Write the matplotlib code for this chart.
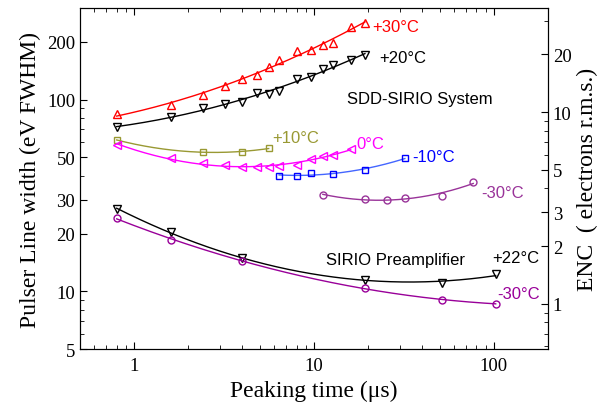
import numpy as np
import matplotlib
matplotlib.use("Agg")
import matplotlib.pyplot as plt
from matplotlib.ticker import FixedLocator, LogLocator, NullFormatter, ScalarFormatter

# peaking times (us) and pulser line widths (eV FWHM)
t_30 = [0.8, 1.6, 2.4, 3.2, 4.0, 4.8, 5.6, 6.4, 8.0, 9.6, 11.2, 12.8, 16.0, 19.2]
w_30 = [84, 94, 105, 117, 128, 135, 148, 161, 178, 181, 192, 198, 238, 250]

t_20 = [0.8, 1.6, 2.4, 3.2, 4.0, 4.8, 5.6, 6.4, 8.0, 9.6, 11.2, 12.8, 16.0, 19.2]
w_20 = [71.7, 81.5, 90.2, 94.9, 96.8, 108, 107, 110.5, 128, 131, 144, 152, 160, 170]

t_10 = [0.8, 2.4, 4.0, 5.6]
w_10 = [61.5, 53.3, 53.3, 55.7]

t_0 = [0.8, 1.6, 2.4, 3.2, 4.0, 4.8, 5.6, 6.4, 8.0, 9.6, 11.2, 12.8, 16.0]
w_0 = [58, 49.4, 46.7, 45.8, 44.6, 44.3, 44.3, 45.1, 45.8, 49.0, 50.6, 51.4, 55.2]

t_m10 = [6.4, 8.0, 9.6, 12.8, 19.2, 32.0]
w_m10 = [40.1, 40.1, 41.3, 40.9, 43.0, 49.5]

t_m30 = [11.2, 19.2, 25.6, 32.0, 51.2, 76.8]
w_m30 = [31.8, 30.3, 29.9, 30.7, 31.5, 37.1]

# SIRIO preamplifier alone
t_pre = [0.8, 1.6, 4.0, 19.2, 51.2, 102.4]
w_pre_22 = [26.7, 20.5, 15.0, 11.4, 11.0, 12.3]
w_pre_m30 = [24.1, 18.5, 14.4, 10.4, 9.04, 8.59]

EV_PER_ELECTRON = 8.6


def fit_curve(x, y, deg=2):
    lx, ly = np.log10(x), np.log10(y)
    p = np.polyfit(lx, ly, deg)
    xs = np.logspace(lx.min(), lx.max(), 200)
    return xs, 10 ** np.polyval(p, np.log10(xs))


fig = plt.figure(figsize=(6.12, 4.10), dpi=100)
ax = fig.add_axes([0.1307, 0.1463, 0.7647, 0.8317])

series = [
    (t_30, w_30, 'red', 'red', '^', 6),
    (t_20, w_20, 'black', 'black', 'v', 6),
    (t_10, w_10, '#999933', '#999933', 's', 4.5),
    (t_0, w_0, '#ff00ff', '#ff00ff', '<', 6),
    (t_m10, w_m10, '#4466ff', '#0000ff', 's', 4.5),
    (t_m30, w_m30, '#993399', '#993399', 'o', 5),
    (t_pre, w_pre_22, 'black', 'black', 'v', 6),
    (t_pre, w_pre_m30, '#990099', '#990099', 'o', 5),
]
for x, y, lc, mc, m, ms in series:
    xs, ys = fit_curve(x, y)
    ax.plot(xs, ys, color=lc, lw=1.0)
    ax.plot(x, y, ls='none', marker=m, ms=ms, mfc='none', mec=mc, mew=1.0)

ax.set_xscale('log')
ax.set_yscale('log')
ax.set_xlim(0.5, 200)
ax.set_ylim(5, 300)

serif = 'Liberation Serif'
sans = 'Liberation Sans'

ax.xaxis.set_major_locator(FixedLocator([1, 10, 100]))
ax.xaxis.set_major_formatter(ScalarFormatter())
ax.xaxis.set_minor_locator(LogLocator(subs=np.arange(2, 10)))
ax.xaxis.set_minor_formatter(NullFormatter())
ax.yaxis.set_major_locator(FixedLocator([5, 10, 20, 30, 50, 100, 200]))
ax.yaxis.set_major_formatter(ScalarFormatter())
ax.yaxis.set_minor_locator(LogLocator(subs=np.arange(2, 10)))
ax.yaxis.set_minor_formatter(NullFormatter())

ax.tick_params(which='both', direction='in', top=True, right=False, labelsize=13.5)
ax.tick_params(which='major', length=5)
ax.tick_params(which='minor', length=3)
ax.tick_params(axis='x', pad=6)
for lab in ax.get_xticklabels() + ax.get_yticklabels():
    lab.set_fontfamily(serif)

ax.set_xlabel('Peaking time (\u03bcs)', fontsize=17, family=serif)
ax.set_ylabel('Pulser Line width (eV FWHM)', fontsize=17, family=serif)

# right axis: ENC in electrons
ax2 = ax.twinx()
ax2.set_yscale('log')
ax2.set_ylim(5 / EV_PER_ELECTRON, 300 / EV_PER_ELECTRON)
ax2.yaxis.set_major_locator(FixedLocator([1, 2, 3, 5, 10, 20]))
ax2.yaxis.set_major_formatter(ScalarFormatter())
ax2.yaxis.set_minor_locator(LogLocator(subs=np.arange(2, 10)))
ax2.yaxis.set_minor_formatter(NullFormatter())
ax2.tick_params(which='both', direction='in', labelsize=13.5)
ax2.tick_params(which='major', length=5)
ax2.tick_params(which='minor', length=3)
for lab in ax2.get_yticklabels():
    lab.set_fontfamily(serif)
ax2.set_ylabel('ENC  ( electrons r.m.s.)', fontsize=17, family=serif)

# labels on the curves
fs = 12
ax.text(21.1, 240, '+30\u00b0C', color='red', fontsize=fs, family=sans, va='center')
ax.text(23.1, 166, '+20\u00b0C', color='black', fontsize=fs, family=sans, va='center')
ax.text(15.2, 100.7, 'SDD-SIRIO System', color='black', fontsize=fs, family=sans, va='center')
ax.text(5.88, 63.6, '+10\u00b0C', color='#999933', fontsize=fs, family=sans, va='center')
ax.text(17.3, 58.7, '0\u00b0C', color='#ff00ff', fontsize=fs, family=sans, va='center')
ax.text(35.1, 50.6, '-10\u00b0C', color='#0000ff', fontsize=fs, family=sans, va='center')
ax.text(84.6, 32.8, '-30\u00b0C', color='#993399', fontsize=fs, family=sans, va='center')
ax.text(11.67, 14.7, 'SIRIO Preamplifier', color='black', fontsize=fs, family=sans, va='center')
ax.text(98.3, 15.0, '+22\u00b0C', color='black', fontsize=fs, family=sans, va='center')
ax.text(104.9, 9.68, '-30\u00b0C', color='#990099', fontsize=fs, family=sans, va='center')

fig.savefig('out.png', dpi=100)
